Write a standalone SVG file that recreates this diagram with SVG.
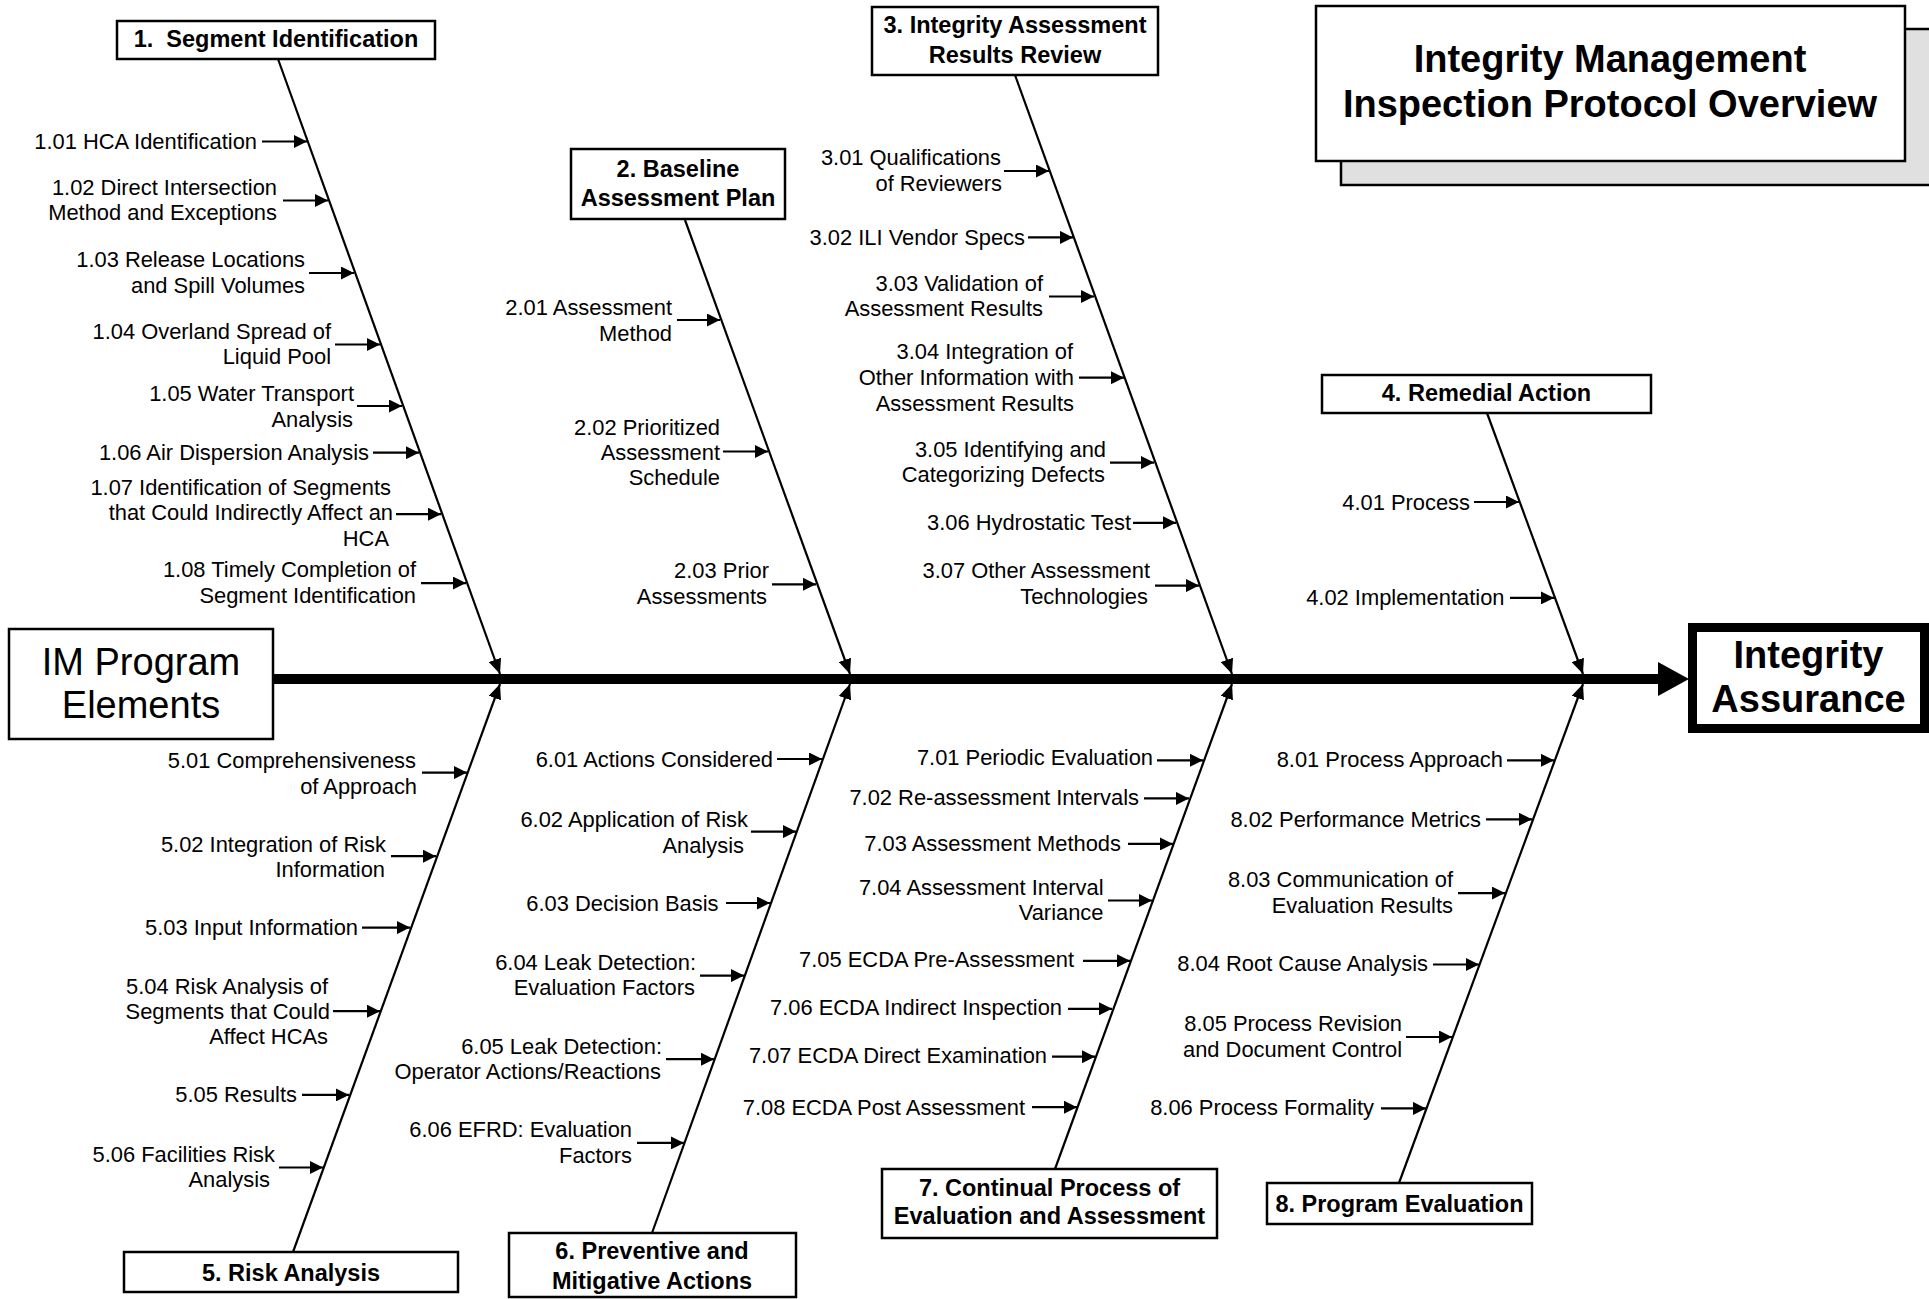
<svg xmlns="http://www.w3.org/2000/svg" width="1929" height="1299" viewBox="0 0 1929 1299">
<defs>
<style>
.lbl{font-family:"Liberation Sans",Arial,sans-serif;font-size:21.9px;fill:#000;text-anchor:end}
.hd{font-family:"Liberation Sans",Arial,sans-serif;font-size:23.5px;font-weight:bold;fill:#000;text-anchor:middle}
.big{font-family:"Liberation Sans",Arial,sans-serif;font-size:38px;fill:#000;text-anchor:middle}
.box{fill:#fff;stroke:#000;stroke-width:2.5}
.bone{stroke:#000;stroke-width:2.2;fill:none;marker-end:url(#bh)}
.arr{stroke:#000;stroke-width:2.2;fill:none;marker-end:url(#ah)}
</style>
<marker id="ah" markerUnits="userSpaceOnUse" viewBox="0 0 13 13" refX="13" refY="6.5" markerWidth="13" markerHeight="13" orient="auto"><path d="M0,0 L13,6.5 L0,13 z" fill="#000"/></marker>
<marker id="bh" markerUnits="userSpaceOnUse" viewBox="0 0 15 13" refX="15" refY="6.5" markerWidth="15" markerHeight="13" orient="auto"><path d="M0,0 L15,6.5 L0,13 z" fill="#000"/></marker>
</defs>
<rect x="0" y="0" width="1929" height="1299" fill="#fff"/>

<g id="title">
<rect x="1341" y="29" width="600" height="156" fill="#e0e0e0" stroke="#000" stroke-width="2.5"/>
<rect x="1316" y="6" width="589" height="155" class="box"/>
<text class="big" x="1610" y="72" font-size="39" font-weight="bold">Integrity Management</text>
<text class="big" x="1610" y="117" font-size="39" font-weight="bold">Inspection Protocol Overview</text>
</g>

<g id="connectors">
<line x1="273" y1="679" x2="1661" y2="679" stroke="#000" stroke-width="10"/>
<polygon points="1658,662 1689,679 1658,696" fill="#000"/>
<line class="bone" x1="278" y1="59" x2="500" y2="674"/>
<line class="bone" x1="685" y1="220" x2="850" y2="674"/>
<line class="bone" x1="1015" y1="75" x2="1232" y2="674"/>
<line class="bone" x1="1487" y1="413" x2="1583" y2="674"/>
<line class="bone" x1="293" y1="1252" x2="500" y2="684"/>
<line class="bone" x1="652" y1="1233" x2="850" y2="684"/>
<line class="bone" x1="1055" y1="1169" x2="1232" y2="684"/>
<line class="bone" x1="1399" y1="1183" x2="1583" y2="684"/>
<line class="arr" x1="262" y1="141.5" x2="307" y2="141.5"/>
<line class="arr" x1="283" y1="200.5" x2="328" y2="200.5"/>
<line class="arr" x1="309" y1="273" x2="354" y2="273"/>
<line class="arr" x1="335" y1="344.5" x2="380" y2="344.5"/>
<line class="arr" x1="357" y1="406" x2="402" y2="406"/>
<line class="arr" x1="373" y1="452.7" x2="419" y2="452.7"/>
<line class="arr" x1="396" y1="514.2" x2="441" y2="514.2"/>
<line class="arr" x1="421" y1="583.1" x2="466" y2="583.1"/>
<line class="arr" x1="677" y1="320" x2="720" y2="320"/>
<line class="arr" x1="723" y1="451.5" x2="768" y2="451.5"/>
<line class="arr" x1="772" y1="584.3" x2="816" y2="584.3"/>
<line class="arr" x1="1004" y1="171" x2="1049" y2="171"/>
<line class="arr" x1="1028" y1="237.4" x2="1073" y2="237.4"/>
<line class="arr" x1="1049" y1="296.5" x2="1094" y2="296.5"/>
<line class="arr" x1="1079" y1="377.7" x2="1124" y2="377.7"/>
<line class="arr" x1="1110" y1="462.6" x2="1154" y2="462.6"/>
<line class="arr" x1="1133" y1="522.8" x2="1176" y2="522.8"/>
<line class="arr" x1="1155" y1="585.6" x2="1199" y2="585.6"/>
<line class="arr" x1="1474" y1="502" x2="1519" y2="502"/>
<line class="arr" x1="1510" y1="597.9" x2="1554" y2="597.9"/>
<line class="arr" x1="422" y1="772.6" x2="467" y2="772.6"/>
<line class="arr" x1="391" y1="856.2" x2="436" y2="856.2"/>
<line class="arr" x1="362" y1="927.6" x2="410" y2="927.6"/>
<line class="arr" x1="333" y1="1011.2" x2="380" y2="1011.2"/>
<line class="arr" x1="302" y1="1094.9" x2="349" y2="1094.9"/>
<line class="arr" x1="279" y1="1167.5" x2="323" y2="1167.5"/>
<line class="arr" x1="777" y1="759" x2="822" y2="759"/>
<line class="arr" x1="751" y1="831.6" x2="796" y2="831.6"/>
<line class="arr" x1="726" y1="903" x2="770" y2="903"/>
<line class="arr" x1="700" y1="975.6" x2="744" y2="975.6"/>
<line class="arr" x1="666" y1="1059.2" x2="714" y2="1059.2"/>
<line class="arr" x1="637" y1="1142.9" x2="684" y2="1142.9"/>
<line class="arr" x1="1157" y1="760.3" x2="1203" y2="760.3"/>
<line class="arr" x1="1144" y1="798.4" x2="1189" y2="798.4"/>
<line class="arr" x1="1128" y1="843.9" x2="1173" y2="843.9"/>
<line class="arr" x1="1108" y1="900.5" x2="1152" y2="900.5"/>
<line class="arr" x1="1083" y1="960.8" x2="1130" y2="960.8"/>
<line class="arr" x1="1068" y1="1008.8" x2="1112" y2="1008.8"/>
<line class="arr" x1="1052" y1="1056.7" x2="1095" y2="1056.7"/>
<line class="arr" x1="1032" y1="1107.2" x2="1077" y2="1107.2"/>
<line class="arr" x1="1507" y1="760.3" x2="1554" y2="760.3"/>
<line class="arr" x1="1486" y1="819.3" x2="1532" y2="819.3"/>
<line class="arr" x1="1458" y1="893.1" x2="1505" y2="893.1"/>
<line class="arr" x1="1433" y1="964.5" x2="1479" y2="964.5"/>
<line class="arr" x1="1406" y1="1037" x2="1452" y2="1037"/>
<line class="arr" x1="1381" y1="1108.4" x2="1426" y2="1108.4"/>
</g>

<g id="im-program-elements">
<rect x="9" y="629" width="264" height="110" class="box"/>
<text class="big" x="141" y="675">IM Program</text>
<text class="big" x="141" y="718">Elements</text>
</g>
<g id="integrity-assurance">
<rect x="1692.5" y="627.5" width="232" height="101" fill="#fff" stroke="#000" stroke-width="9"/>
<text class="big" x="1808.5" y="668" font-weight="bold">Integrity</text>
<text class="big" x="1808.5" y="712" font-weight="bold">Assurance</text>
</g>

<g id="cat1">
<rect x="117" y="21" width="318" height="38" class="box"/>
<text class="hd" x="276" y="47" style="white-space:pre">1.  Segment Identification</text>
</g>
<g id="cat2">
<rect x="571" y="149" width="214" height="70" class="box"/>
<text class="hd" x="678" y="177">2. Baseline</text>
<text class="hd" x="678" y="205.5">Assessment Plan</text>
</g>
<g id="cat3">
<rect x="872" y="7" width="286" height="68" class="box"/>
<text class="hd" x="1015" y="33">3. Integrity Assessment</text>
<text class="hd" x="1015" y="62.5">Results Review</text>
</g>
<g id="cat4">
<rect x="1322" y="375" width="329" height="38" class="box"/>
<text class="hd" x="1486.5" y="401">4. Remedial Action</text>
</g>
<g id="cat5">
<rect x="124" y="1252" width="334" height="40" class="box"/>
<text class="hd" x="291" y="1281">5. Risk Analysis</text>
</g>
<g id="cat6">
<rect x="509" y="1233" width="287" height="64" class="box"/>
<text class="hd" x="652" y="1259">6. Preventive and</text>
<text class="hd" x="652" y="1289">Mitigative Actions</text>
</g>
<g id="cat7">
<rect x="882" y="1169" width="335" height="69" class="box"/>
<text class="hd" x="1049.5" y="1195.5">7. Continual Process of</text>
<text class="hd" x="1049.5" y="1223.8">Evaluation and Assessment</text>
</g>
<g id="cat8">
<rect x="1267" y="1183" width="265" height="41" class="box"/>
<text class="hd" x="1399.5" y="1211.5">8. Program Evaluation</text>
</g>

<g id="items1">
<g id="i101"><text class="lbl" x="257" y="149">1.01 HCA Identification</text></g>
<g id="i102"><text class="lbl" x="277" y="194.5"><tspan x="277">1.02 Direct Intersection</tspan><tspan x="277" dy="25.8">Method and Exceptions</tspan></text></g>
<g id="i103"><text class="lbl" x="305" y="267"><tspan x="305">1.03 Release Locations</tspan><tspan x="305" dy="25.8">and Spill Volumes</tspan></text></g>
<g id="i104"><text class="lbl" x="331" y="338.5"><tspan x="331">1.04 Overland Spread of</tspan><tspan x="331" dy="25.8">Liquid Pool</tspan></text></g>
<g id="i105"><text class="lbl" x="354" y="401"><tspan x="354">1.05 Water Transport</tspan><tspan x="353" dy="25.8">Analysis</tspan></text></g>
<g id="i106"><text class="lbl" x="369" y="460">1.06 Air Dispersion Analysis</text></g>
<g id="i107"><text class="lbl" x="392" y="494.5"><tspan x="391">1.07 Identification of Segments</tspan><tspan x="393" dy="25.8">that Could Indirectly Affect an</tspan><tspan x="389" dy="25.8">HCA</tspan></text></g>
<g id="i108"><text class="lbl" x="416" y="577"><tspan x="416">1.08 Timely Completion of</tspan><tspan x="416" dy="25.8">Segment Identification</tspan></text></g>
</g>
<g id="items2">
<g id="i201"><text class="lbl" x="672" y="315"><tspan x="672">2.01 Assessment</tspan><tspan x="672" dy="25.8">Method</tspan></text></g>
<g id="i202"><text class="lbl" x="720" y="434.5"><tspan x="720">2.02 Prioritized</tspan><tspan x="720" dy="25.3">Assessment</tspan><tspan x="720" dy="25.3">Schedule</tspan></text></g>
<g id="i203"><text class="lbl" x="769" y="578.3"><tspan x="769">2.03 Prior</tspan><tspan x="767" dy="25.8">Assessments</tspan></text></g>
</g>
<g id="items3">
<g id="i301"><text class="lbl" x="1001" y="165"><tspan x="1001">3.01 Qualifications</tspan><tspan x="1002" dy="25.8">of Reviewers</tspan></text></g>
<g id="i302"><text class="lbl" x="1025" y="245">3.02 ILI Vendor Specs</text></g>
<g id="i303"><text class="lbl" x="1043" y="290.5"><tspan x="1043">3.03 Validation of</tspan><tspan x="1043" dy="25.8">Assessment Results</tspan></text></g>
<g id="i304"><text class="lbl" x="1074" y="359.3"><tspan x="1073">3.04 Integration of</tspan><tspan x="1074" dy="25.8">Other Information with</tspan><tspan x="1074" dy="25.8">Assessment Results</tspan></text></g>
<g id="i305"><text class="lbl" x="1106" y="456.5"><tspan x="1106">3.05 Identifying and</tspan><tspan x="1105" dy="25.8">Categorizing Defects</tspan></text></g>
<g id="i306"><text class="lbl" x="1131" y="530.3">3.06 Hydrostatic Test</text></g>
<g id="i307"><text class="lbl" x="1150" y="578.3"><tspan x="1150">3.07 Other Assessment</tspan><tspan x="1148" dy="25.8">Technologies</tspan></text></g>
</g>
<g id="items4">
<g id="i401"><text class="lbl" x="1470" y="509.5">4.01 Process</text></g>
<g id="i402"><text class="lbl" x="1504.5" y="605.4">4.02 Implementation</text></g>
</g>
<g id="items5">
<g id="i501"><text class="lbl" x="416" y="767.8"><tspan x="416">5.01 Comprehensiveness</tspan><tspan x="417" dy="25.8">of Approach</tspan></text></g>
<g id="i502"><text class="lbl" x="386" y="851.5"><tspan x="386">5.02 Integration of Risk</tspan><tspan x="385" dy="25.8">Information</tspan></text></g>
<g id="i503"><text class="lbl" x="358" y="935">5.03 Input Information</text></g>
<g id="i504"><text class="lbl" x="328" y="994"><tspan x="328">5.04 Risk Analysis of</tspan><tspan x="330" dy="25.2">Segments that Could</tspan><tspan x="328" dy="25.2">Affect HCAs</tspan></text></g>
<g id="i505"><text class="lbl" x="297" y="1102.4">5.05 Results</text></g>
<g id="i506"><text class="lbl" x="275" y="1161.5"><tspan x="275">5.06 Facilities Risk</tspan><tspan x="270" dy="25.8">Analysis</tspan></text></g>
</g>
<g id="items6">
<g id="i601"><text class="lbl" x="773" y="766.5">6.01 Actions Considered</text></g>
<g id="i602"><text class="lbl" x="748" y="826.8"><tspan x="748">6.02 Application of Risk</tspan><tspan x="744" dy="25.8">Analysis</tspan></text></g>
<g id="i603"><text class="lbl" x="718.5" y="910.5">6.03 Decision Basis</text></g>
<g id="i604"><text class="lbl" x="696" y="969.5"><tspan x="696">6.04 Leak Detection:</tspan><tspan x="695" dy="25.8">Evaluation Factors</tspan></text></g>
<g id="i605"><text class="lbl" x="662" y="1054.4"><tspan x="662">6.05 Leak Detection:</tspan><tspan x="661" dy="24.8">Operator Actions/Reactions</tspan></text></g>
<g id="i606"><text class="lbl" x="632" y="1136.8"><tspan x="632">6.06 EFRD: Evaluation</tspan><tspan x="632" dy="25.8">Factors</tspan></text></g>
</g>
<g id="items7">
<g id="i701"><text class="lbl" x="1153" y="765.3">7.01 Periodic Evaluation</text></g>
<g id="i702"><text class="lbl" x="1139" y="804.7">7.02 Re-assessment Intervals</text></g>
<g id="i703"><text class="lbl" x="1121" y="851.4">7.03 Assessment Methods</text></g>
<g id="i704"><text class="lbl" x="1103.5" y="894.5"><tspan x="1103.5">7.04 Assessment Interval</tspan><tspan x="1103.5" dy="25.8">Variance</tspan></text></g>
<g id="i705"><text class="lbl" x="1074" y="967">7.05 ECDA Pre-Assessment</text></g>
<g id="i706"><text class="lbl" x="1062" y="1015">7.06 ECDA Indirect Inspection</text></g>
<g id="i707"><text class="lbl" x="1047" y="1063">7.07 ECDA Direct Examination</text></g>
<g id="i708"><text class="lbl" x="1025" y="1114.7">7.08 ECDA Post Assessment</text></g>
</g>
<g id="items8">
<g id="i801"><text class="lbl" x="1503" y="766.5">8.01 Process Approach</text></g>
<g id="i802"><text class="lbl" x="1481" y="826.8">8.02 Performance Metrics</text></g>
<g id="i803"><text class="lbl" x="1453" y="887.1"><tspan x="1453">8.03 Communication of</tspan><tspan x="1453" dy="25.8">Evaluation Results</tspan></text></g>
<g id="i804"><text class="lbl" x="1428" y="970.7">8.04 Root Cause Analysis</text></g>
<g id="i805"><text class="lbl" x="1402" y="1031"><tspan x="1402">8.05 Process Revision</tspan><tspan x="1402" dy="25.8">and Document Control</tspan></text></g>
<g id="i806"><text class="lbl" x="1374" y="1114.7">8.06 Process Formality</text></g>
</g>
</svg>
